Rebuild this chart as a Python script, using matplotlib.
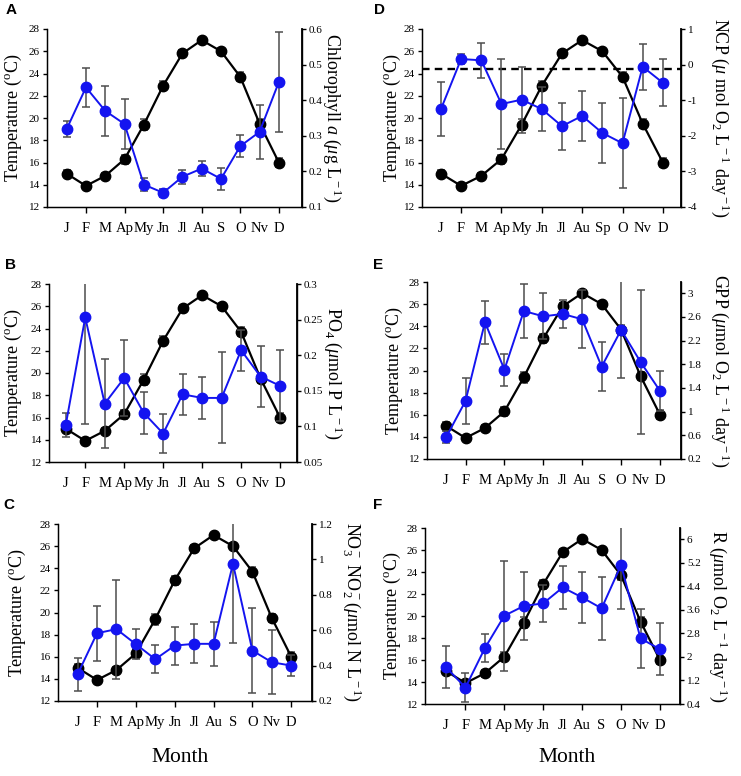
import matplotlib
matplotlib.use('Agg')
import matplotlib.pyplot as plt
from matplotlib.ticker import FuncFormatter

plt.rcParams['font.family'] = ['Liberation Serif', 'DejaVu Serif']
plt.rcParams['mathtext.fontset'] = 'custom'
plt.rcParams['mathtext.rm'] = 'Liberation Serif'
plt.rcParams['mathtext.it'] = 'Liberation Serif:italic'
plt.rcParams['mathtext.bf'] = 'Liberation Serif:bold'

# ---------------- data ----------------
months = ['J', 'F', 'M', 'Ap', 'My', 'Jn', 'Jl', 'Au', 'S', 'O', 'Nv', 'D']
months_ncp = ['J', 'F', 'M', 'Ap', 'My', 'Jn', 'Jl', 'Au', 'Sp', 'O', 'Nv', 'D']

temp = [15.0, 13.9, 14.8, 16.3, 19.4, 22.9, 25.8, 27.0, 26.0, 23.7, 19.5, 16.0]
temp_err = [0.3, 0.2, 0.3, 0.4, 0.5, 0.4, 0.3, 0.2, 0.3, 0.4, 0.4, 0.4]

chl = [0.319, 0.436, 0.370, 0.333, 0.163, 0.140, 0.185, 0.208, 0.179, 0.271, 0.311, 0.451]
chl_err = [0.022, 0.055, 0.070, 0.071, 0.019, 0.011, 0.020, 0.020, 0.030, 0.030, 0.075, 0.140]

po4 = [0.102, 0.253, 0.132, 0.168, 0.119, 0.090, 0.145, 0.140, 0.140, 0.207, 0.170, 0.157]
po4_err = [0.017, 0.149, 0.062, 0.054, 0.030, 0.028, 0.029, 0.029, 0.064, 0.029, 0.043, 0.050]

nox = [0.351, 0.583, 0.606, 0.521, 0.436, 0.513, 0.523, 0.523, 0.975, 0.485, 0.419, 0.400]
nox_err = [0.093, 0.155, 0.280, 0.085, 0.080, 0.107, 0.110, 0.125, 0.450, 0.240, 0.180, 0.060]

ncp = [-1.25, 0.157, 0.12, -1.107, -0.985, -1.25, -1.73, -1.44, -1.92, -2.21, -0.06, -0.51]
ncp_err = [0.76, 0.15, 0.49, 1.27, 0.93, 0.61, 0.66, 0.71, 0.84, 1.27, 0.64, 0.66]
ncp_ref = -0.12

gpp = [0.565, 1.18, 2.51, 1.71, 2.70, 2.61, 2.65, 2.56, 1.76, 2.38, 1.84, 1.35]
gpp_err = [0.10, 0.39, 0.36, 0.27, 0.45, 0.39, 0.24, 0.49, 0.41, 0.82, 1.21, 0.34]

resp = [1.65, 0.96, 2.30, 3.40, 3.73, 3.82, 4.36, 4.02, 3.65, 5.12, 2.63, 2.26]
resp_err = [0.72, 0.50, 0.48, 1.87, 1.14, 0.62, 0.72, 0.87, 1.06, 1.49, 1.00, 0.89]

temp_ticks = [12, 14, 16, 18, 20, 22, 24, 26, 28]

W, H = 741, 776
fig = plt.figure(figsize=(W / 100, H / 100), dpi=100)

# panel layout in pixels: left, right, top, bottom, xlim, left-label x, right-label x
panels = [
    dict(letter='A', box=(47, 302, 29, 207), xlim=(-1.02, 12.2), lx=-0.133, rx=1.12,
         vals=chl, errs=chl_err, ylim=(0.1, 0.6), ticks=[0.1, 0.2, 0.3, 0.4, 0.5, 0.6],
         label=r'Chlorophyll $a$ ($\mu$g L$^{\rm -1}$)', months=months, letter_xy=(11, 10)),
    dict(letter='B', box=(49, 297, 284, 462), xlim=(-0.86, 11.87), lx=-0.145, rx=1.145,
         vals=po4, errs=po4_err, ylim=(0.05, 0.3), ticks=[0.05, 0.1, 0.15, 0.2, 0.25, 0.3],
         label=r'PO$_{\rm 4}$ ($\mu$mol P L$^{\rm -1}$)', months=months, letter_xy=(10, 265)),
    dict(letter='C', box=(58, 312, 524, 701), xlim=(-1.01, 12.07), lx=-0.161, rx=1.157,
         vals=nox, errs=nox_err, ylim=(0.2, 1.2), ticks=[0.2, 0.4, 0.6, 0.8, 1.0, 1.2],
         label=r'NO$_{\rm 3}^{\rm -}$ NO$_{\rm 2}^{\rm -}$($\mu$mol N L$^{\rm -1}$)', months=months,
         letter_xy=(9, 505)),
    dict(letter='D', box=(422, 681, 29, 207), xlim=(-0.94, 11.9), lx=-0.116, rx=1.15,
         vals=ncp, errs=ncp_err, ylim=(-4, 1), ticks=[-4, -3, -2, -1, 0, 1],
         label=r'NCP ($\mu$ mol O$_{\rm 2}$ L$^{\rm -1}$ day$^{\rm -1}$)', months=months_ncp,
         letter_xy=(379, 10)),
    dict(letter='E', box=(427, 681, 282, 459), xlim=(-0.98, 12.08), lx=-0.13, rx=1.153,
         vals=gpp, errs=gpp_err, ylim=(0.2, 3.19), ticks=[0.2, 0.6, 1.0, 1.4, 1.8, 2.2, 2.6, 3.0],
         label=r'GPP ($\mu$mol O$_{\rm 2}$ L$^{\rm -1}$ day$^{\rm -1}$)', months=months,
         letter_xy=(378, 265)),
    dict(letter='F', box=(425, 680, 528, 704), xlim=(-1.08, 12.03), lx=-0.129, rx=1.149,
         vals=resp, errs=resp_err, ylim=(0.4, 6.38), ticks=[0.4, 1.2, 2.0, 2.8, 3.6, 4.4, 5.2, 6.0],
         label=r'R ($\mu$mol O$_{\rm 2}$ L$^{\rm -1}$ day$^{\rm -1}$)', months=months,
         letter_xy=(378, 505)),
]

fmt = FuncFormatter(lambda v, p: ('%g' % round(v, 3)))
blue = '#1414f0'
errc = '#4d4d4d'
TICK_LEN = 4
LABEL_OFFSET = 18  # points from axis line to label baseline

for p in panels:
    l, r, t, b = p['box']
    ax = fig.add_axes([l / W, 1 - b / H, (r - l) / W, (b - t) / H])
    x = list(range(len(p['months'])))
    ax.errorbar(x, temp, yerr=temp_err, fmt='none', ecolor=errc, elinewidth=1.1,
                capsize=3, capthick=1.1, zorder=2)
    ax.plot(x, temp, '-o', color='black', lw=1.6, ms=7.5, zorder=3)
    ax.set_ylim(12, 28)
    ax.set_yticks(temp_ticks)
    ax.set_xlim(*p['xlim'])
    odd = x[1::2]
    even = x[0::2]
    ax.set_xticks(odd)
    ax.set_xticklabels(p['months'][1::2], fontsize=10.5)
    ax.set_xticks(even, minor=True)
    ax.set_xticklabels(p['months'][0::2], minor=True, fontsize=10.5)
    ax.tick_params(axis='x', which='major', length=TICK_LEN, width=1, direction='out',
                   pad=LABEL_OFFSET - TICK_LEN)
    ax.tick_params(axis='x', which='minor', length=0, pad=LABEL_OFFSET)
    for lab in ax.get_xticklabels(which='both'):
        lab.set_verticalalignment('baseline')
    ax.tick_params(axis='y', labelsize=8, length=3, width=1, pad=2)
    ax.spines['top'].set_visible(False)
    for s in ax.spines.values():
        s.set_linewidth(1.0)
    ax.set_ylabel(r'Temperature ($^{\rm o}$C)', fontsize=13, va='center')
    ax.yaxis.set_label_coords(p['lx'], 0.5)

    ax2 = ax.twinx()
    ax2.errorbar(x, p['vals'], yerr=p['errs'], fmt='none', ecolor=errc, elinewidth=1.1,
                 capsize=3, capthick=1.1, zorder=2)
    ax2.plot(x, p['vals'], '-o', color=blue, lw=1.4, ms=7.5, zorder=3)
    if p['letter'] == 'D':
        ax2.axhline(ncp_ref, color='black', lw=1.7, ls=(0, (3.2, 2.2)), zorder=1)
    ax2.set_ylim(*p['ylim'])
    ax2.set_yticks(p['ticks'])
    ax2.yaxis.set_major_formatter(fmt)
    ax2.tick_params(axis='y', labelsize=8, length=3, width=1, pad=2)
    ax2.spines['top'].set_visible(False)
    ax2.spines['right'].set_linewidth(1.3)
    ax2.set_ylabel(p['label'], fontsize=13, rotation=270, va='center')
    ax2.yaxis.set_label_coords(p['rx'], 0.5)

    lx, ly = p['letter_xy']
    fig.text(lx / W, 1 - ly / H, p['letter'], fontsize=11, fontweight='bold',
             family='Liberation Sans', ha='center', va='center')

fig.text(180 / W, 1 - 758 / H, 'Month', fontsize=15.5, ha='center', va='center')
fig.text(567 / W, 1 - 758 / H, 'Month', fontsize=15.5, ha='center', va='center')

fig.savefig('out.png', dpi=100)
